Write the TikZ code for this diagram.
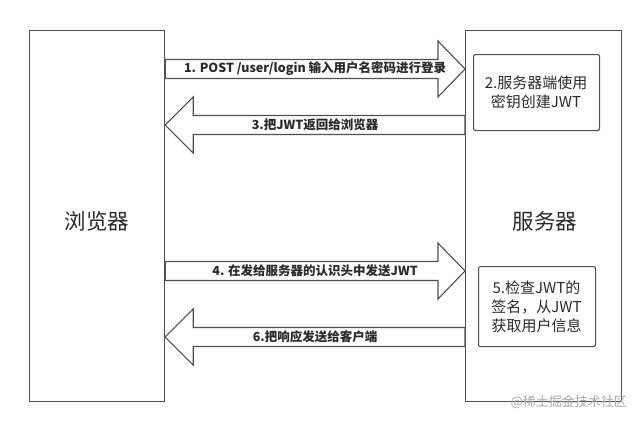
\documentclass[tikz,border=0pt]{standalone}
\usepackage{fontspec}
\setmainfont{Noto Sans CJK SC}
\usetikzlibrary{calc}
\definecolor{linec}{HTML}{505050}
\definecolor{textc}{HTML}{2A2A2A}
\definecolor{wmc}{HTML}{A8A8A8}
\newcommand\fatR[3]{% #1 start, #2 tip, #3 label
  \draw[fat] ($(#1)+(0,-9.5)$) -- ($(#2)+(-27,-9.5)$) -- ($(#2)+(-27,-28)$) -- (#2)
    -- ($(#2)+(-27,28)$) -- ($(#2)+(-27,9.5)$) -- ($(#1)+(0,9.5)$) -- cycle;
  \node[lbl] at ($(#1)!0.5!(#2)$) {#3};}
\newcommand\fatL[3]{% #1 start (right), #2 tip (left), #3 label
  \draw[fat] ($(#1)+(0,-9.5)$) -- ($(#2)+(28,-9.5)$) -- ($(#2)+(28,-28)$) -- (#2)
    -- ($(#2)+(28,28)$) -- ($(#2)+(28,9.5)$) -- ($(#1)+(0,9.5)$) -- cycle;
  \node[lbl] at ($(#1)!0.5!(#2)$) {#3};}
\begin{document}
\begin{tikzpicture}[x=1pt,y=-1pt]
\tikzset{
  frame/.style={draw=linec, line width=1.2pt, fill=white, inner sep=0pt, anchor=north west},
  inbox/.style={draw=linec, line width=1.1pt, rounded corners=2pt, fill=white, inner sep=0pt,
    anchor=north west, align=center, font=\fontsize{15}{19}\selectfont, text=textc},
  fat/.style={draw=linec, line width=1.1pt, fill=white, line join=miter},
  lbl/.style={font=\bfseries\fontsize{12.5}{14}\selectfont, text=textc, inner sep=0pt},
  big/.style={font=\fontsize{21.5}{24}\selectfont, text=textc, inner sep=0pt},
}
\fill[white] (0,0) rectangle (640,421);
\useasboundingbox (0,0) rectangle (640,421);
\node[frame, minimum width=135pt, minimum height=371pt] (browser) at (29,30) {};
\node[frame, minimum width=156pt, minimum height=371pt] (server) at (465,30) {};
\node[big] (bl) at (97,221) {浏览器};
\node[big] (sl) at (545,221) {服务器};
% arrows
\coordinate (s1) at (browser.east |- 0,69);  \coordinate (t1) at (server.west |- 0,69);
\coordinate (s3) at (server.west |- 0,125);  \coordinate (t3) at (browser.east |- 0,125);
\coordinate (s4) at (browser.east |- 0,271); \coordinate (t4) at (server.west |- 0,271);
\coordinate (s6) at (server.west |- 0,337);  \coordinate (t6) at (browser.east |- 0,337);
\fatR{s1}{t1}{1. POST /user/login 输入用户名密码进行登录}
\fatL{s3}{t3}{3.把JWT返回给浏览器}
\fatR{s4}{t4}{4. 在发给服务器的认识头中发送JWT}
\fatL{s6}{t6}{6.把响应发送给客户端}
% inner boxes
\node[inbox, minimum width=126pt, minimum height=76pt] (b2) at (473,54) {};
\node[align=center, font=\fontsize{15}{19}\selectfont, text=textc, inner sep=0pt] (t2) at (536,92.5) {2.服务器端使用\\密钥创建JWT};
\node[inbox, minimum width=117pt, minimum height=80pt] (b5) at (478,266) {};
\node[align=center, font=\fontsize{15}{19}\selectfont, text=textc, inner sep=0pt] (t5) at (536.5,307) {5.检查JWT的\\签名，从JWT\\获取用户信息};
% watermark
\node[font=\fontsize{13}{14}\selectfont, text=wmc, inner sep=0pt, anchor=east] (wm) at (627,402) {@稀土掘金技术社区};
\end{tikzpicture}
\end{document}
